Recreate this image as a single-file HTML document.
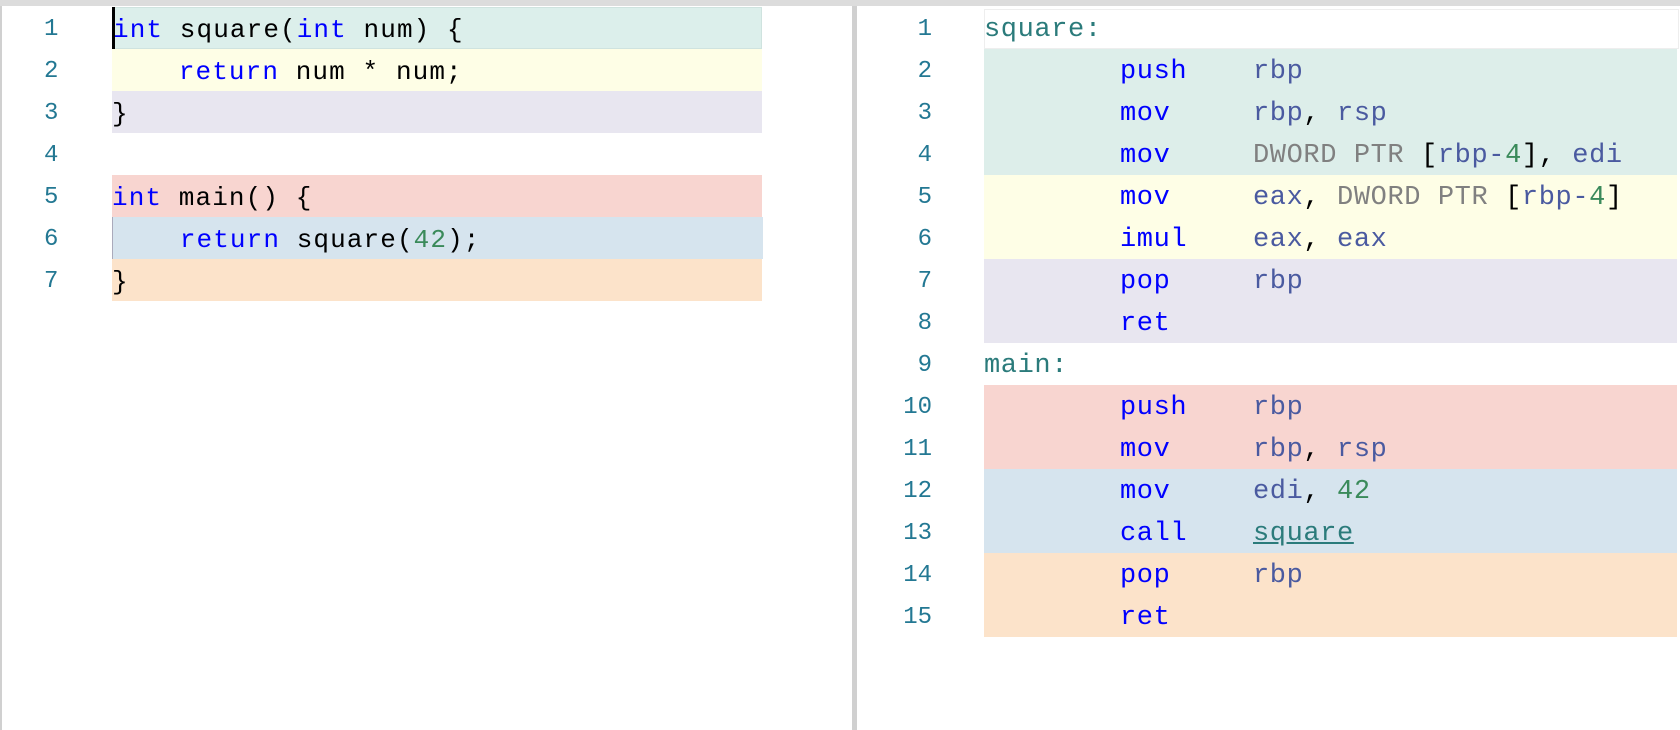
<!DOCTYPE html>
<html><head><meta charset="utf-8"><style>
body{margin:0;width:1680px;height:730px;background:#fff;position:relative;overflow:hidden;font-family:"Liberation Mono",monospace}
.top{position:absolute;left:0;top:0;width:1680px;height:6px;background:#dcdcdc}
.lb{position:absolute;left:0;top:6px;width:2px;height:724px;background:#d0d0d0}
.div{position:absolute;left:852px;top:6px;width:5px;height:724px;background:#d0d0d0}
.row{position:absolute;height:42px;line-height:46px;white-space:pre}
.ln{position:absolute;height:42px;line-height:46px;color:#237893;font-size:24px}
.L{font-size:26px;letter-spacing:1.1px;color:#000}
.R{font-size:27px;letter-spacing:0.6px}
.k{color:#0000ff}.n{color:#3a8a5a}.r{color:#4a5aa0}.g{color:#808080}.lab{color:#2b7b7b}.b{color:#000}
</style></head><body>
<div class="top"></div><div class="lb"></div><div class="div"></div>
<div class="ln" style="left:44px;top:7px">1</div>
<div class="ln" style="left:44px;top:49px">2</div>
<div class="ln" style="left:44px;top:91px">3</div>
<div class="ln" style="left:44px;top:133px">4</div>
<div class="ln" style="left:44px;top:175px">5</div>
<div class="ln" style="left:44px;top:217px">6</div>
<div class="ln" style="left:44px;top:259px">7</div>
<div class="row L" style="left:112px;top:7px;width:648px;height:40px;background:#dcefeb;border:1px solid #cfe3df;line-height:44px"><span class="k">int</span> square(<span class="k">int</span> num) {</div>
<div style="position:absolute;left:112px;top:7px;width:3px;height:42px;background:#000"></div>
<div class="row L" style="left:112px;top:49px;width:650px;background:#fefee6">    <span class="k">return</span> num * num;</div>
<div class="row L" style="left:112px;top:91px;width:650px;background:#e8e6f0">}</div>
<div class="row L" style="left:112px;top:175px;width:650px;background:#f8d5d0"><span class="k">int</span> main() {</div>
<div class="row L" style="left:112px;top:217px;width:650px;background:#d6e4ee;border-left:1px solid #aab">    <span class="k">return</span> square(<span class="n">42</span>);</div>
<div class="row L" style="left:112px;top:259px;width:650px;background:#fce3ca">}</div>
<div style="position:absolute;left:984px;top:9px;width:693px;height:38px;background:#fff;border:1px solid #eee"></div>
<div style="position:absolute;left:984px;top:49px;width:693px;height:126px;background:#ddeeea"></div>
<div style="position:absolute;left:984px;top:175px;width:693px;height:84px;background:#fefee6"></div>
<div style="position:absolute;left:984px;top:259px;width:693px;height:84px;background:#e8e6f0"></div>
<div style="position:absolute;left:984px;top:385px;width:693px;height:84px;background:#f8d5d0"></div>
<div style="position:absolute;left:984px;top:469px;width:693px;height:84px;background:#d6e4ee"></div>
<div style="position:absolute;left:984px;top:553px;width:693px;height:84px;background:#fce3ca"></div>
<div class="ln" style="left:880px;width:52px;text-align:right;top:7px">1</div>
<div class="ln" style="left:880px;width:52px;text-align:right;top:49px">2</div>
<div class="ln" style="left:880px;width:52px;text-align:right;top:91px">3</div>
<div class="ln" style="left:880px;width:52px;text-align:right;top:133px">4</div>
<div class="ln" style="left:880px;width:52px;text-align:right;top:175px">5</div>
<div class="ln" style="left:880px;width:52px;text-align:right;top:217px">6</div>
<div class="ln" style="left:880px;width:52px;text-align:right;top:259px">7</div>
<div class="ln" style="left:880px;width:52px;text-align:right;top:301px">8</div>
<div class="ln" style="left:880px;width:52px;text-align:right;top:343px">9</div>
<div class="ln" style="left:880px;width:52px;text-align:right;top:385px">10</div>
<div class="ln" style="left:880px;width:52px;text-align:right;top:427px">11</div>
<div class="ln" style="left:880px;width:52px;text-align:right;top:469px">12</div>
<div class="ln" style="left:880px;width:52px;text-align:right;top:511px">13</div>
<div class="ln" style="left:880px;width:52px;text-align:right;top:553px">14</div>
<div class="ln" style="left:880px;width:52px;text-align:right;top:595px">15</div>
<div class="row R lab" style="left:984px;top:7px">square:</div>
<div class="row R lab" style="left:984px;top:343px">main:</div>
<div class="row R k" style="left:1120px;top:49px">push</div><div class="row R r" style="left:1253px;top:49px">rbp</div>
<div class="row R k" style="left:1120px;top:91px">mov</div><div class="row R r" style="left:1253px;top:91px">rbp<span class="b">,</span> rsp</div>
<div class="row R k" style="left:1120px;top:133px">mov</div><div class="row R r" style="left:1253px;top:133px"><span class="g">DWORD PTR</span> <span class="b">[</span>rbp-<span class="n">4</span><span class="b">],</span> edi</div>
<div class="row R k" style="left:1120px;top:175px">mov</div><div class="row R r" style="left:1253px;top:175px">eax<span class="b">,</span> <span class="g">DWORD PTR</span> <span class="b">[</span>rbp-<span class="n">4</span><span class="b">]</span></div>
<div class="row R k" style="left:1120px;top:217px">imul</div><div class="row R r" style="left:1253px;top:217px">eax<span class="b">,</span> eax</div>
<div class="row R k" style="left:1120px;top:259px">pop</div><div class="row R r" style="left:1253px;top:259px">rbp</div>
<div class="row R k" style="left:1120px;top:301px">ret</div>
<div class="row R k" style="left:1120px;top:385px">push</div><div class="row R r" style="left:1253px;top:385px">rbp</div>
<div class="row R k" style="left:1120px;top:427px">mov</div><div class="row R r" style="left:1253px;top:427px">rbp<span class="b">,</span> rsp</div>
<div class="row R k" style="left:1120px;top:469px">mov</div><div class="row R r" style="left:1253px;top:469px">edi<span class="b">,</span> <span class="n">42</span></div>
<div class="row R k" style="left:1120px;top:511px">call</div><div class="row R lab" style="left:1253px;top:511px;text-decoration:underline">square</div>
<div class="row R k" style="left:1120px;top:553px">pop</div><div class="row R r" style="left:1253px;top:553px">rbp</div>
<div class="row R k" style="left:1120px;top:595px">ret</div>
</body></html>
